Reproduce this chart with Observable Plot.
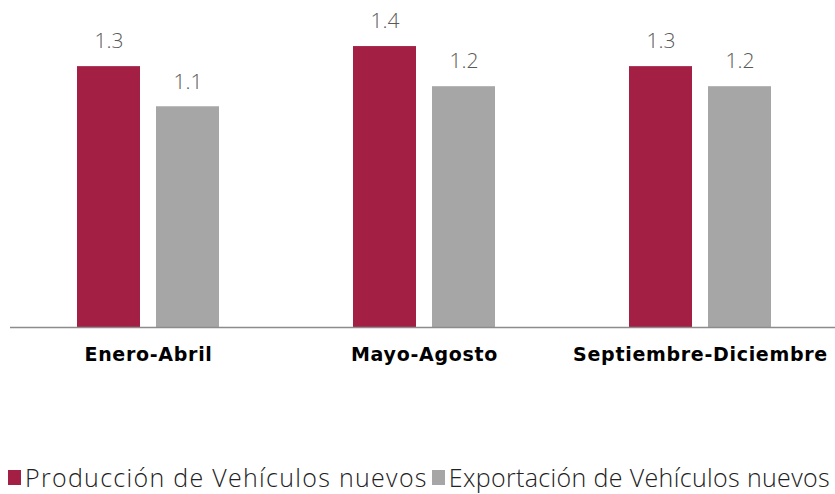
<!DOCTYPE html>
<html><head><meta charset="utf-8">
<script src="https://cdn.jsdelivr.net/npm/d3@7"></script>
<script src="https://cdn.jsdelivr.net/npm/@observablehq/plot@0.6"></script>
<style>
html,body{margin:0;padding:0;background:#fff;width:835px;height:494px;overflow:hidden;}
#legend{margin-top:62px;display:flex;align-items:center;white-space:nowrap;font-family:"Open Sans",Lato,sans-serif;font-weight:300;font-size:25px;letter-spacing:1.3px;color:#222;padding-left:8px;line-height:30px;}
#legend .sw{display:inline-block;width:13px;height:15px;margin-right:4px;}
#legend .item{display:flex;align-items:center;margin-right:4px;}
#legend .item:last-child{letter-spacing:0.35px;margin-right:0;}
</style>
</head><body>
<div id="chart"></div>
<div id="legend"></div>
<script>
const periods = ["Enero-Abril", "Mayo-Agosto", "Septiembre-Diciembre"];
const seriesNames = ["Producción de Vehículos nuevos", "Exportación de Vehículos nuevos"];
const produccion = [1.3, 1.4, 1.3];
const exportacion = [1.1, 1.2, 1.2];
const colors = ["#A31F44", "#A6A6A6"];

const data = [];
periods.forEach((p, i) => {
  data.push({period: p, serie: seriesNames[0], value: produccion[i]});
  data.push({period: p, serie: seriesNames[1], value: exportacion[i]});
});

const chart = Plot.plot({
  width: 835,
  height: 400,
  marginLeft: 10,
  marginRight: -3,
  marginTop: 26,
  marginBottom: 73,
  style: {background: "#fff", overflow: "visible"},
  fx: {domain: periods, padding: 0, label: null, axis: null},
  x: {domain: seriesNames, paddingInner: 0.2, paddingOuter: 0.846, axis: null},
  y: {domain: [0, 1.5], axis: null},
  color: {domain: seriesNames, range: colors},
  marks: [
    Plot.barY(data, {fx: "period", x: "serie", y: "value", fill: "serie"}),
    Plot.text(data, {fx: "period", x: "serie", y: "value", text: d => d.value.toFixed(1),
      dy: -25, lineAnchor: "middle", fontSize: 21, fontWeight: 300, fill: "#595959",
      fontFamily: "'Open Sans', Lato, sans-serif"}),
    Plot.ruleY([0], {stroke: "#8c8c8c", strokeWidth: 1.5}),
    Plot.axisFx({domain: periods, anchor: "bottom", tickSize: 0, tickPadding: 20, label: null,
      fontSize: 19, fontWeight: "bold", fill: "#000", fontFamily: "'DejaVu Sans', sans-serif"})
  ]
});
d3.select(chart).selectAll("g[aria-label='fx-axis tick label'] text, g[aria-label='fx-axis tick label']")
  .style("letter-spacing", "0.7px");
document.getElementById("chart").appendChild(chart);

const lg = d3.select("#legend");
seriesNames.forEach((s, i) => {
  const it = lg.append("span").attr("class", "item");
  it.append("span").attr("class", "sw").style("background", colors[i]);
  it.append("span").text(s);
});
</script>
</body></html>
